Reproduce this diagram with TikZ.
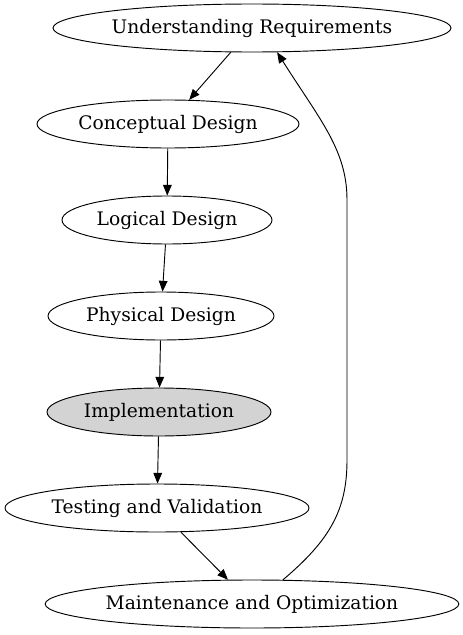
\documentclass[tikz,border=0pt]{standalone}
\usepackage{fontspec}
\setmainfont{DejaVu Serif}
\usetikzlibrary{shapes.geometric,arrows.meta}

\definecolor{gvgray}{RGB}{211,211,211}

\tikzset{
  stage/.style={draw, ellipse, inner sep=0pt, line width=0.7pt, minimum height=36pt, font=\fontsize{14}{16}\selectfont},
  flow/.style={line width=0.7pt, -{Triangle[length=8pt,width=6.5pt]}}
}

\begin{document}
\begin{tikzpicture}[x=0.75pt,y=0.75pt,yscale=-1]
    \useasboundingbox (0,0) rectangle (462,635);

    %Shape: Ellipse
    \node [stage, minimum width=298.5pt] (req) at (252,28) {Understanding Requirements};
    %Shape: Ellipse
    \node [stage, minimum width=196.5pt] (concept) at (168,124) {Conceptual Design};
    %Shape: Ellipse
    \node [stage, minimum width=157.5pt] (logical) at (167,220) {Logical Design};
    %Shape: Ellipse
    \node [stage, minimum width=169.5pt] (physical) at (161,316) {Physical Design};
    %Shape: Ellipse
    \node [stage, fill=gvgray, minimum width=168pt] (impl) at (159,412) {Implementation};
    %Shape: Ellipse
    \node [stage, minimum width=228pt] (test) at (157,508) {Testing and Validation};
    %Shape: Ellipse
    \node [stage, minimum width=307.5pt] (maint) at (252,604) {Maintenance and Optimization};

    %Straight Lines
    \draw [flow] (req) -- (concept);
    \draw [flow] (concept) -- (logical);
    \draw [flow] (logical) -- (physical);
    \draw [flow] (physical) -- (impl);
    \draw [flow] (impl) -- (test);
    \draw [flow] (test) -- (maint);

    %Curve Lines
    \draw [flow] (maint.38) .. controls (330,540) and (347,510) .. (347,460) -- (347,200) .. controls (347,150) and (320,120) .. (req.-44);

\end{tikzpicture}
\end{document}
